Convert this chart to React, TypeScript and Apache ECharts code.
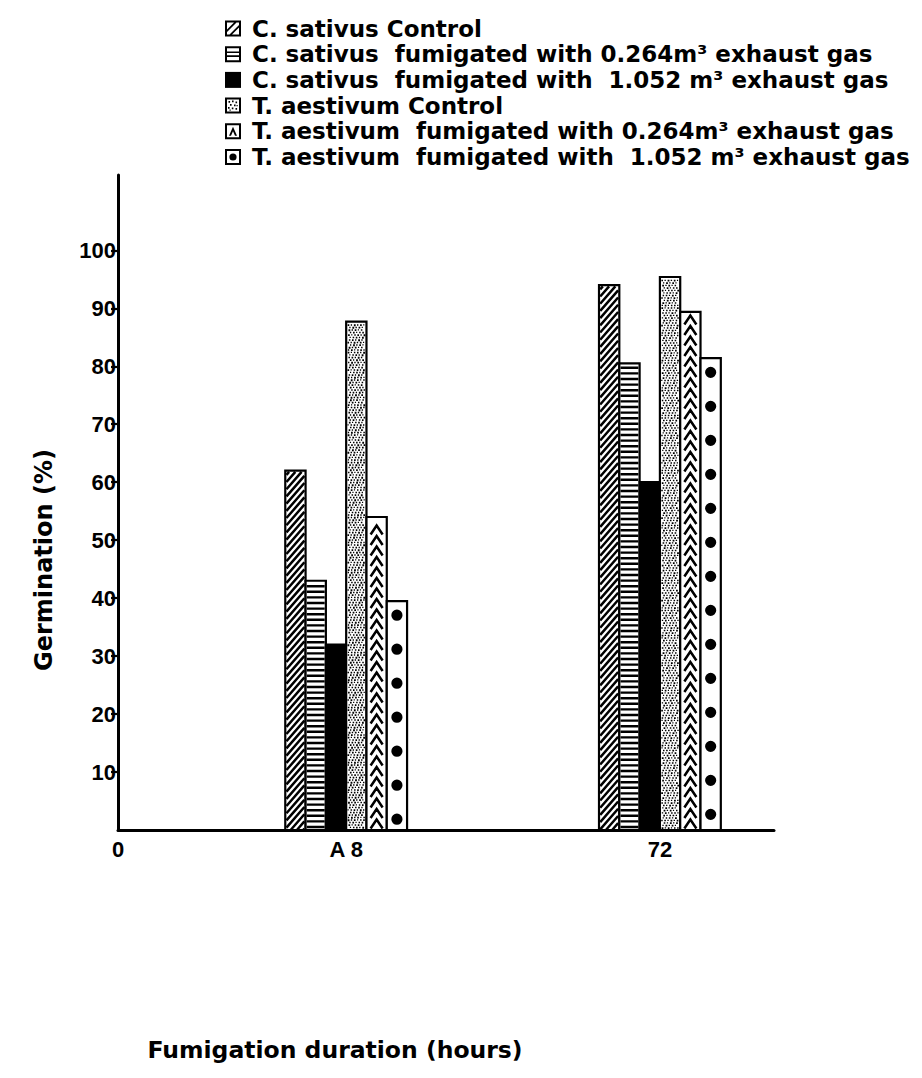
import React, { useEffect, useRef } from "react";
import * as echarts from "echarts";

// ---------- data ----------
const xCategories = [
  "0", "", "", "", "", "", "", "", "A 8", "", "", "", "", "", "", "", "", "", "", "72", "", "", "", "",
];
const durations = ["A 8", "72"];

const seriesNames = [
  "C. sativus Control",
  "C. sativus  fumigated with 0.264m³ exhaust gas",
  "C. sativus  fumigated with  1.052 m³ exhaust gas",
  "T. aestivum Control",
  "T. aestivum  fumigated with 0.264m³ exhaust gas",
  "T. aestivum  fumigated with  1.052 m³ exhaust gas",
];

const sativusControl = [62, 94];
const sativus0264 = [43, 80.5];
const sativus1052 = [32, 60];
const aestivumControl = [87.7, 95.4];
const aestivum0264 = [54, 89.4];
const aestivum1052 = [39.5, 81.4];

const yTickValues = [10, 20, 30, 40, 50, 60, 70, 80, 90, 100];

const yTitle = "Germination (%)";
const xTitle = "Fumigation duration (hours)";

// ---------- style ----------
const FONT = "DejaVu Sans";
const NUM_FONT = "Liberation Sans";
const BAR_W = 20.3;
const patterns = ["diagonal", "horizontal", "solid", "stipple", "chevron", "dots"];

const r2 = (v: number) => Math.round(v * 100) / 100;

function diagonalPath(xa: number, ya: number, xb: number, yb: number) {
  const k = 1.15;
  const w = xb - xa;
  let d = "";
  for (let c = ya + 3; c < yb + k * w; c += 7.2) {
    const t0 = Math.max(0, (c - yb) / k);
    const t1 = Math.min(w, (c - ya) / k);
    if (t1 > t0) {
      d += `M${r2(xa + t0)} ${r2(c - k * t0)}L${r2(xa + t1)} ${r2(c - k * t1)}`;
    }
  }
  return d;
}

function horizontalPath(xa: number, ya: number, xb: number, yb: number) {
  let d = "";
  for (let y = yb - 3; y > ya + 1.5; y -= 5.6) {
    d += `M${r2(xa)} ${r2(y)}H${r2(xb)}`;
  }
  return d;
}

const stippleOffsets = [0.3, 1.9, 1.1, 2.5, 0.7, 2.2, 1.5, 0.1, 2.6, 1.3, 0.5];
const stippleSizes = [1.6, 1.3, 1.8, 1.4, 1.7, 1.2, 1.5];
function stipplePath(xa: number, ya: number, xb: number, yb: number) {
  let d = "";
  let r = 0;
  for (let y = ya + 1.5; y < yb - 1.5; y += 2.5) {
    const off = stippleOffsets[r % stippleOffsets.length];
    let j = 0;
    for (let x = xa + off; x < xb - 1.5; x += 3.1) {
      const s = stippleSizes[(r + j) % stippleSizes.length];
      d += `M${r2(x)} ${r2(y)}h${s}v${s}h${-s}Z`;
      j++;
    }
    r++;
  }
  return d;
}

function chevronPath(xa: number, ya: number, xb: number, yb: number) {
  const cx = (xa + xb) / 2;
  let d = "";
  for (let y = yb - 1.5; y - 9 > ya + 1; y -= 10.5) {
    d += `M${r2(cx - 6)} ${r2(y)}L${r2(cx)} ${r2(y - 9)}L${r2(cx + 6)} ${r2(y)}`;
  }
  return d;
}

function dotsPath(xa: number, ya: number, xb: number, yb: number) {
  const cx = (xa + xb) / 2;
  const rr = 5.6;
  let d = "";
  for (let y = ya + 13; y + rr < yb - 2; y += 34) {
    d += `M${r2(cx - rr)} ${r2(y)}A${rr} ${rr} 0 1 0 ${r2(cx + rr)} ${r2(y)}A${rr} ${rr} 0 1 0 ${r2(cx - rr)} ${r2(y)}Z`;
  }
  return d;
}

function makeRenderItem(s: number) {
  const pattern = patterns[s];
  return (params: any, api: any) => {
    const cat = api.value(0);
    const v = api.value(1);
    const base = api.coord([cat, 0]);
    const top = api.coord([cat, v]);
    const x0 = base[0] + (s - 3) * BAR_W;
    const y0 = top[1];
    const y1 = base[1];
    const children: any[] = [
      {
        type: "rect",
        shape: { x: x0, y: y0, width: BAR_W, height: y1 - y0 },
        style: { fill: pattern === "solid" ? "#000" : "#fff", stroke: "#000", lineWidth: 2.2 },
      },
    ];
    const xa = x0 + 1.2;
    const xb = x0 + BAR_W - 1.2;
    const ya = y0 + 1.2;
    const yb = y1;
    let d = "";
    let style: any = null;
    if (pattern === "diagonal") {
      d = diagonalPath(xa, ya, xb, yb);
      style = { fill: "none", stroke: "#000", lineWidth: 2.5 };
    } else if (pattern === "horizontal") {
      d = horizontalPath(xa, ya, xb, yb);
      style = { fill: "none", stroke: "#000", lineWidth: 2.4 };
    } else if (pattern === "stipple") {
      d = stipplePath(xa, ya, xb, yb);
      style = { fill: "#000", stroke: null };
    } else if (pattern === "chevron") {
      d = chevronPath(xa, ya, xb, yb);
      style = { fill: "none", stroke: "#000", lineWidth: 2.5, lineJoin: "miter" };
    } else if (pattern === "dots") {
      d = dotsPath(xa, ya, xb, yb);
      style = { fill: "#000", stroke: null };
    }
    if (d) {
      children.push({ type: "path", shape: { pathData: d }, style });
    }
    return { type: "group", children };
  };
}

const frame = "M0 0H16V16H0Z M2 2V14H14V2Z";
const legendIcons = [
  "path://" + frame + " M2 9L9 2H11.5L2 11.5Z M4.5 14L14 4.5V7L7 14Z",
  "path://" + frame + " M2 5.3H14V6.9H2Z M2 9.1H14V10.7H2Z",
  "path://M0 0H16V16H0Z",
  "path://" + frame +
    " M3.5 3.5h1.6v1.6h-1.6Z M7 3h1.6v1.6h-1.6Z M10.5 4h1.6v1.6h-1.6Z M5 6.5h1.6v1.6h-1.6Z M9 7h1.6v1.6h-1.6Z M3 9.5h1.6v1.6h-1.6Z M6.8 10h1.6v1.6h-1.6Z M10.5 10.5h1.6v1.6h-1.6Z M11.5 7.5h1.2v1.2h-1.2Z M4.5 12h1.2v1.2h-1.2Z",
  "path://" + frame + " M4 12.5L8 3.5L12 12.5H10L8 8L6 12.5Z",
  "path://" + frame + " M4.4 8A3.6 3.6 0 1 0 11.6 8A3.6 3.6 0 1 0 4.4 8Z",
];

const seriesValues = [sativusControl, sativus0264, sativus1052, aestivumControl, aestivum0264, aestivum1052];

export default function App() {
  const ref = useRef<HTMLDivElement>(null);
  useEffect(() => {
    if (!ref.current) return;
    const chart = echarts.init(ref.current, null, { renderer: "svg" });
    const option: any = {
      animation: false,
      backgroundColor: "#fff",
      grid: { left: 118, right: 148, top: 175, bottom: 248, containLabel: false },
      legend: {
        orient: "vertical",
        left: 220,
        top: 12,
        itemWidth: 16,
        itemHeight: 16,
        itemGap: 2.7,
        selectedMode: false,
        data: seriesNames.map((n, i) => ({ name: n, icon: legendIcons[i] })),
        itemStyle: { color: "#000", borderWidth: 0 },
        textStyle: {
          fontFamily: FONT,
          fontWeight: "bold",
          fontSize: 23,
          color: "#000",
          lineHeight: 22,
          padding: [0, 0, 0, 6],
        },
      },
      xAxis: {
        type: "category",
        data: xCategories,
        boundaryGap: false,
        axisLine: { show: true, lineStyle: { color: "#000", width: 3 } },
        axisTick: { show: false },
        axisLabel: {
          interval: 0,
          color: "#000",
          fontFamily: NUM_FONT,
          fontWeight: "bold",
          fontSize: 22,
          margin: 8,
        },
        splitLine: { show: false },
      },
      yAxis: {
        type: "value",
        min: 0,
        max: 113,
        interval: 10,
        axisLine: { show: true, lineStyle: { color: "#000", width: 3 } },
        axisTick: { show: true, length: 7, lineStyle: { color: "#000", width: 2.2 }, customValues: yTickValues },
        axisLabel: {
          customValues: yTickValues,
          color: "#000",
          fontFamily: NUM_FONT,
          fontWeight: "bold",
          fontSize: 22,
          margin: 2,
        },
        splitLine: { show: false },
      },
      graphic: [
        {
          type: "text",
          x: 44,
          y: 560,
          rotation: Math.PI / 2,
          style: {
            text: yTitle,
            fontFamily: FONT,
            fontWeight: "bold",
            fontSize: 24,
            fill: "#000",
            textAlign: "center",
            textVerticalAlign: "middle",
          },
        },
        {
          type: "text",
          x: 335,
          y: 1050,
          style: {
            text: xTitle,
            fontFamily: FONT,
            fontWeight: "bold",
            fontSize: 23.5,
            fill: "#000",
            textAlign: "center",
            textVerticalAlign: "middle",
          },
        },
      ],
      series: seriesNames.map((name, s) => ({
        type: "custom",
        name,
        clip: false,
        itemStyle: { color: "#000" },
        encode: { x: 0, y: 1 },
        renderItem: makeRenderItem(s),
        data: seriesValues[s].map((v, i) => [xCategories.indexOf(durations[i]), v]),
      })),
    };
    chart.setOption(option);
    return () => chart.dispose();
  }, []);
  return (
    <div
      ref={ref}
      style={{ position: "absolute", left: 0, top: 0, width: 922, height: 1078, background: "#fff" }}
    />
  );
}
